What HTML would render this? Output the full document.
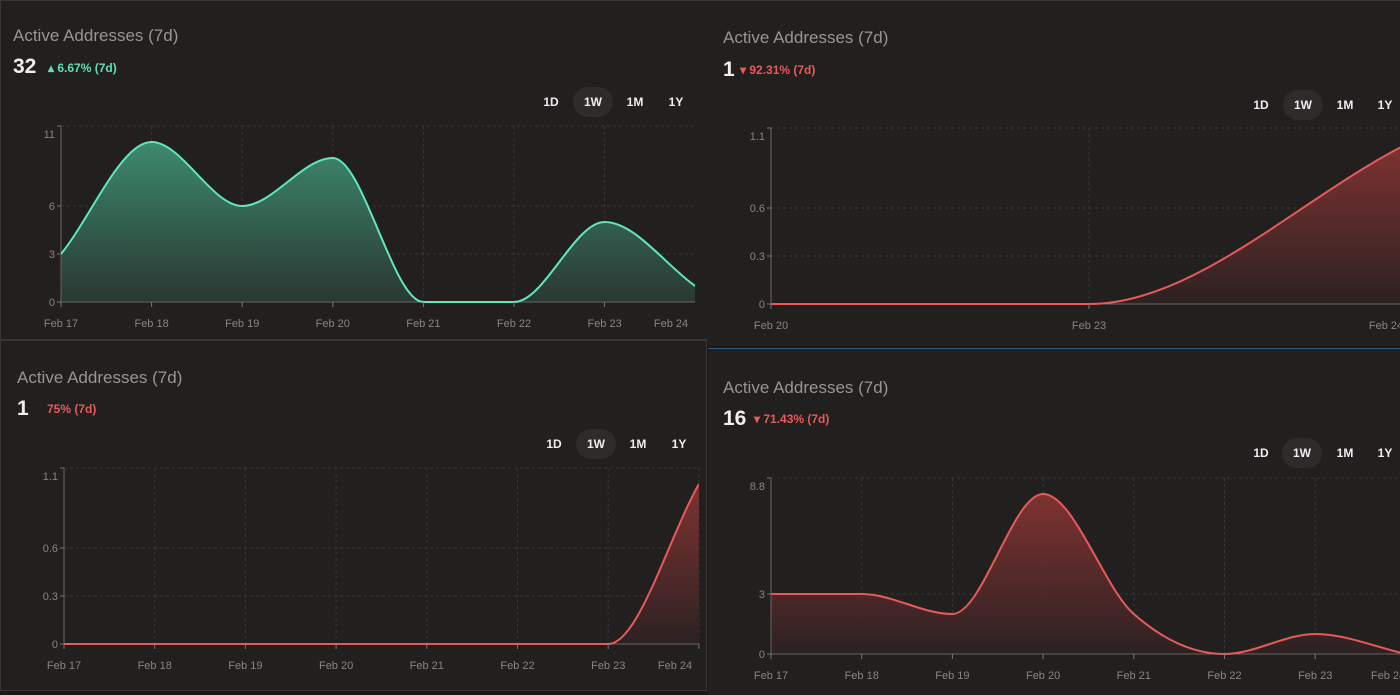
<!DOCTYPE html>
<html><head><meta charset="utf-8">
<style>
html,body{margin:0;padding:0;background:#1a1818;width:1400px;height:694px;overflow:hidden;font-family:"Liberation Sans",sans-serif}
.panel{position:absolute;background:#221f1f;overflow:hidden}
.title{position:absolute;color:#9a9494;font-size:17px}
.big{position:absolute;color:#f2eeee;font-size:21px;font-weight:bold}
.chg{position:absolute;font-size:12px;font-weight:bold}
.btn{position:absolute;color:#eee;font-size:12px;font-weight:bold;width:40px;height:30px;line-height:30px;text-align:center;border-radius:15px}
.btn.on{background:#2f2b2b}
svg{position:absolute;left:0;top:0}
</style></head><body>
<div class="panel" style="left:0;top:0;width:707px;height:338px;border:1px solid #3a3636">
 <div class="title" style="left:12px;top:25px">Active Addresses (7d)</div>
 <div class="big" style="left:12px;top:54px">32</div>
 <div class="chg" style="left:47px;top:60px;color:#5fe0b4">▴ 6.67% (7d)</div>
 <div class="btn" style="left:530px;top:86px">1D</div>
 <div class="btn on" style="left:572px;top:86px">1W</div>
 <div class="btn" style="left:614px;top:86px">1M</div>
 <div class="btn" style="left:655px;top:86px">1Y</div>
</div>
<div class="panel" style="left:708px;top:0;width:692px;height:345px;border-top:1px solid #3a3636">
 <div class="title" style="left:15px;top:27px">Active Addresses (7d)</div>
 <div class="big" style="left:15px;top:57px">1</div>
 <div class="chg" style="left:32px;top:62px;color:#e85a5a">▾ 92.31% (7d)</div>
 <div class="btn" style="left:533px;top:89px">1D</div>
 <div class="btn on" style="left:575px;top:89px">1W</div>
 <div class="btn" style="left:617px;top:89px">1M</div>
 <div class="btn" style="left:657px;top:89px">1Y</div>
</div>
<div class="panel" style="left:0;top:340px;width:705px;height:349px;border:1px solid #3a3636">
 <div class="title" style="left:16px;top:27px">Active Addresses (7d)</div>
 <div class="big" style="left:16px;top:56px">1</div>
 <div class="chg" style="left:46px;top:61px;color:#e85a5a">75% (7d)</div>
 <div class="btn" style="left:533px;top:88px">1D</div>
 <div class="btn on" style="left:575px;top:88px">1W</div>
 <div class="btn" style="left:617px;top:88px">1M</div>
 <div class="btn" style="left:658px;top:88px">1Y</div>
</div>
<div class="panel" style="left:708px;top:348px;width:692px;height:346px;border-top:1px solid #2d5c8a">
 <div class="title" style="left:15px;top:29px">Active Addresses (7d)</div>
 <div class="big" style="left:15px;top:58px">16</div>
 <div class="chg" style="left:46px;top:63px;color:#e85a5a">▾ 71.43% (7d)</div>
 <div class="btn" style="left:533px;top:89px">1D</div>
 <div class="btn on" style="left:574px;top:89px">1W</div>
 <div class="btn" style="left:617px;top:89px">1M</div>
 <div class="btn" style="left:657px;top:89px">1Y</div>
</div>
<svg id="chart" width="1400" height="694">
 <defs>
  <linearGradient id="gG" x1="0" y1="0" x2="0" y2="1"><stop offset="0" stop-color="#3f8f72" stop-opacity="0.95"/><stop offset="1" stop-color="#2a3b34" stop-opacity="0.9"/></linearGradient>
  <linearGradient id="gR" x1="0" y1="0" x2="0" y2="1"><stop offset="0" stop-color="#8a3434" stop-opacity="0.9"/><stop offset="1" stop-color="#2d2222" stop-opacity="0.9"/></linearGradient>
 </defs>
</svg>
<script>
const cats1=["Feb 17","Feb 18","Feb 19","Feb 20","Feb 21","Feb 22","Feb 23","Feb 24"];
const vals1=[3,10,6,9,0,0,5,1];
const ticks1=[0,3,6,11];
const cats2=["Feb 20","Feb 23","Feb 24"];
const vals2=[0,0,1];
const ticks2=[0,0.3,0.6,1.1];
const cats3=["Feb 17","Feb 18","Feb 19","Feb 20","Feb 21","Feb 22","Feb 23","Feb 24"];
const vals3=[0,0,0,0,0,0,0,1];
const ticks3=[0,0.3,0.6,1.1];
const cats4=["Feb 17","Feb 18","Feb 19","Feb 20","Feb 21","Feb 22","Feb 23","Feb 24"];
const vals4=[3,3,2,8,2,0,1,0];
const ticks4=[0,3,8.8];

const NS="http://www.w3.org/2000/svg";
const svg=document.getElementById('chart');
function mk(t,a,p){const e=document.createElementNS(NS,t);for(const k in a)e.setAttribute(k,a[k]);(p||svg).appendChild(e);return e;}
function monotone(pts){
 const n=pts.length;if(n<2)return "";
 const d=[],m=[];
 for(let i=0;i<n-1;i++)d.push((pts[i+1][1]-pts[i][1])/(pts[i+1][0]-pts[i][0]));
 for(let i=0;i<n;i++){
  if(i===0)m.push(d[0]);else if(i===n-1)m.push(d[n-2]);
  else m.push(d[i-1]*d[i]<=0?0:(d[i-1]+d[i])/2);
 }
 for(let i=0;i<n-1;i++){if(d[i]===0){m[i]=0;m[i+1]=0;}else{const a=m[i]/d[i],b=m[i+1]/d[i],s=a*a+b*b;if(s>9){const t=3/Math.sqrt(s);m[i]=t*a*d[i];m[i+1]=t*b*d[i];}}}
 let s="M"+pts[0][0]+","+pts[0][1];
 for(let i=0;i<n-1;i++){const h=(pts[i+1][0]-pts[i][0])/3;
  s+=" C"+(pts[i][0]+h)+","+(pts[i][1]+m[i]*h)+" "+(pts[i+1][0]-h)+","+(pts[i+1][1]-m[i+1]*h)+" "+pts[i+1][0]+","+pts[i+1][1];}
 return s;
}
function draw(cfg,cats,vals,ticks){
 const g=mk('g',{});
 
 
 const max=ticks[ticks.length-1];
 const y=v=>cfg.y0-(v/max)*(cfg.y0-cfg.yTop);
 const x=i=>cfg.x0+i*cfg.step;
 const clip=mk('clipPath',{id:'c'+cfg.name},g);
 mk('rect',{x:cfg.x0,y:cfg.yTop-10,width:cfg.xEnd-cfg.x0,height:cfg.y0-cfg.yTop+12},clip);
 for(let i=0;i<cats.length;i++){const xi=x(i);if(xi>cfg.xEnd)continue;
  const gl=mk('line',{x1:xi,x2:xi,y1:cfg.yTop,y2:cfg.y0,stroke:'#3a3636','stroke-dasharray':'3,3'},g);
  }
 ticks.forEach(t=>{const yy=y(t);
  if(t>0){const gl=mk('line',{x1:cfg.x0,x2:cfg.xEnd,y1:yy,y2:yy,stroke:'#3a3636','stroke-dasharray':'3,3'},g);
   }
  const tl=mk('text',{x:cfg.x0-6,y:Math.max(yy,cfg.yTop+8)+4,'text-anchor':'end',fill:'#8a8585','font-size':'11','font-family':'Liberation Sans'},g);
  tl.textContent=t;
  mk('line',{x1:cfg.x0-4,x2:cfg.x0,y1:yy,y2:yy,stroke:'#777'},g);
 });
 const pts=vals.map((v,i)=>[x(i),y(v)]);
 const path=monotone(pts);
 const area=mk('path',{d:path+" L"+pts[pts.length-1][0]+","+cfg.y0+" L"+pts[0][0]+","+cfg.y0+" Z",fill:cfg.fill,'clip-path':'url(#c'+cfg.name+')'},g);
 
 mk('line',{x1:cfg.x0,x2:cfg.x0,y1:cfg.yTop,y2:cfg.y0,stroke:'#6a6565'},g);
 mk('line',{x1:cfg.x0,x2:cfg.xEnd,y1:cfg.y0,y2:cfg.y0,stroke:'#6a6565'},g);
 const ln=mk('path',{d:path,fill:'none',stroke:cfg.color,'stroke-width':2,'clip-path':'url(#c'+cfg.name+')'},g);
 
 cats.forEach((c,i)=>{let xi=x(i);const last=i===cats.length-1;
  if(xi>cfg.xEnd-30&&last)xi=cfg.xEnd-cfg.lastOff;
  if(x(i)<=cfg.xEnd)mk('line',{x1:x(i),x2:x(i),y1:cfg.y0,y2:cfg.y0+5,stroke:'#777'},g);
  const tl=mk('text',{x:xi,y:cfg.y0+25,'text-anchor':'middle',fill:'#8a8585','font-size':'11','font-family':'Liberation Sans'},g);
  tl.textContent=c;
 });
}
draw({name:'chart-top-left',x0:61,step:90.6,xEnd:695,y0:302,yTop:126,lastOff:24,color:'#5fe8bc',fill:'url(#gG)'},cats1,vals1,ticks1);
draw({name:'chart-top-right',x0:771,step:318,xEnd:1400,y0:304,yTop:128,lastOff:14,color:'#e85a5a',fill:'url(#gR)'},cats2,vals2,ticks2);
draw({name:'chart-bottom-left',x0:64,step:90.7,xEnd:699,y0:644,yTop:468,lastOff:24,color:'#e85a5a',fill:'url(#gR)'},cats3,vals3,ticks3);
draw({name:'chart-bottom-right',x0:771,step:90.7,xEnd:1400,y0:654,yTop:478,lastOff:12,color:'#e85a5a',fill:'url(#gR)'},cats4,vals4,ticks4);
</script>
</body></html>
